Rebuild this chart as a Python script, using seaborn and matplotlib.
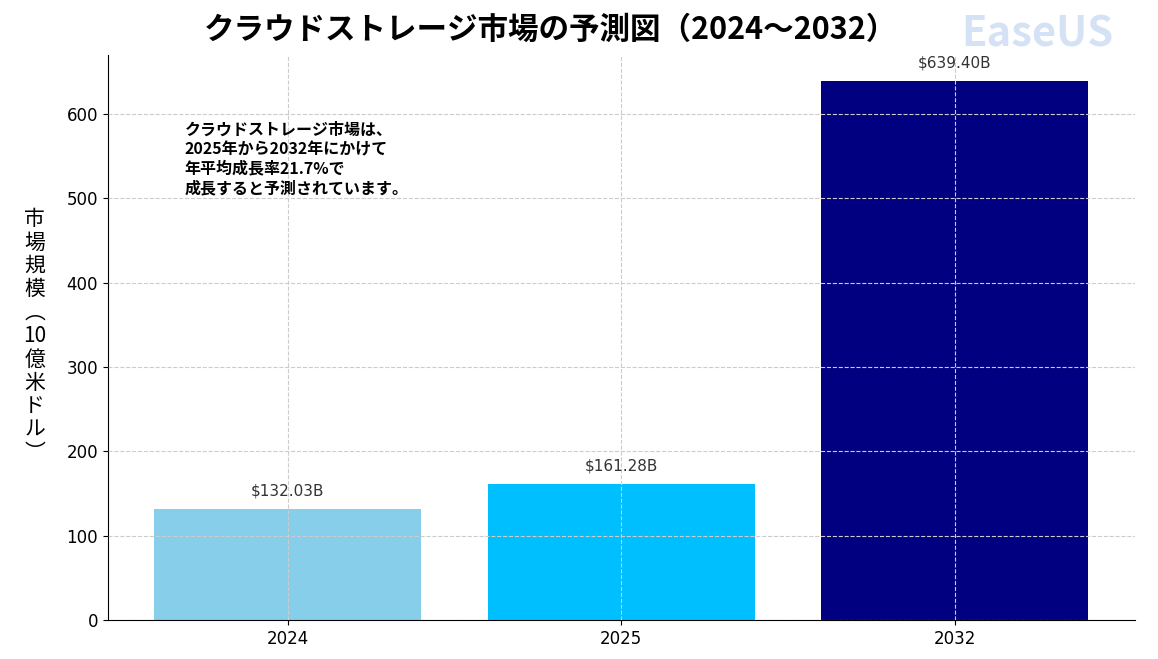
import matplotlib.pyplot as plt
import seaborn as sns
import pandas as pd

years = ['2024', '2025', '2032']
values = [132.03, 161.28, 639.40]
colors = ['#87CEEB', '#00BFFF', '#000080']
note = 'クラウドストレージ市場は、\n2025年から2032年にかけて\n年平均成長率21.7%で\n成長すると予測されています。'

plt.rcParams['font.family'] = ['Noto Sans CJK JP', 'DejaVu Sans']
df = pd.DataFrame({'year': years, 'value': values})

fig = plt.figure(figsize=(11.58, 6.59), dpi=100)
ax = fig.add_axes([0.093, 0.059, 0.887, 0.858])
sns.barplot(data=df, x='year', y='value', hue='year', palette=colors, width=0.8,
            saturation=1, legend=False, ax=ax)
ax.set_ylim(0, 670)
ax.set_xlim(-0.54, 2.54)
ax.grid(True, linestyle='--', color='#cccccc', linewidth=0.8)
ax.set_axisbelow(False)
for s in ['top', 'right']:
    ax.spines[s].set_visible(False)
for i, v in enumerate(values):
    ax.text(i, v + 12, f'${v:.2f}B', ha='center', va='bottom', fontsize=11, color='#333333',
            family='DejaVu Sans')
ax.tick_params(labelsize=12)
for lab in ax.get_xticklabels() + ax.get_yticklabels():
    lab.set_family('DejaVu Sans')
ax.set_xlabel('')
ax.set_ylabel('')
ax.text(-0.31, 590, note, fontsize=11.5, fontweight='bold', va='top', linespacing=1.25)
fig.text(0.03, 0.49, '市\n場\n規\n模\n︵\n10\n億\n米\nド\nル\n︶', ha='center', va='center',
         fontsize=15, linespacing=1.08)
fig.text(0.475, 0.955, 'クラウドストレージ市場の予測図（2024～2032）', ha='center', va='center',
         fontsize=22, fontweight='bold')
fig.text(0.83, 0.93, 'EaseUS', fontsize=30, fontweight='bold', color='#2f6fd6', alpha=0.2)
fig.savefig('out.png', dpi=100)
